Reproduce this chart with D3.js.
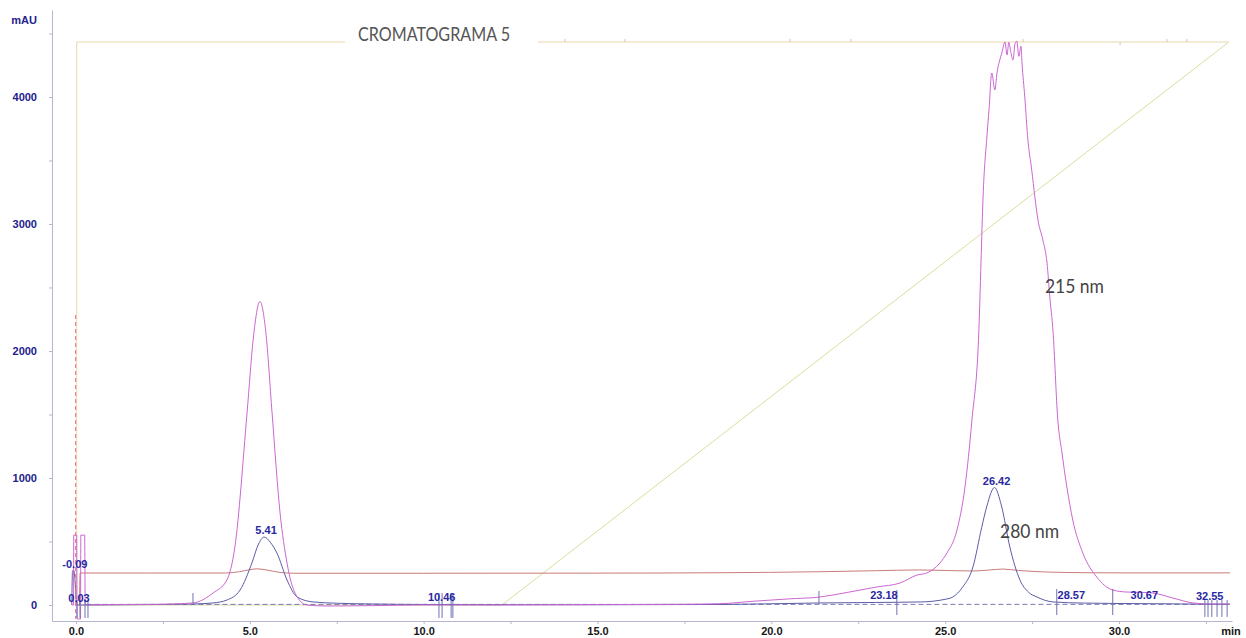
<!DOCTYPE html>
<html><head><meta charset="utf-8">
<script src="https://cdn.jsdelivr.net/npm/d3@7"></script>
<style>
html,body{margin:0;padding:0;background:#fff;}
svg{display:block;}
</style></head><body>
<svg id="chart" width="1246" height="638"></svg>
<script>
// Axis ticks: retention time (min) and absorbance (mAU)
const xTickValues = [0, 2.5, 5, 7.5, 10, 12.5, 15, 17.5, 20, 22.5, 25, 27.5, 30, 32.5];
const yTickValues = [0, 500, 1000, 1500, 2000, 2500, 3000, 3500, 4000, 4500];

// 215 nm signal
const t215 = [-0.12, -0.07, -0.065, 0.02, 0.03, 0.13, 0.14, 0.25, 0.265, 0.6, 1.5, 2.5, 3.365, 3.94, 4.34, 4.57, 4.92, 5.1, 5.29, 5.46, 5.64, 5.87, 6.07, 6.30, 6.64, 7.2, 8.5, 10, 12, 14, 16, 17.5, 18.52, 19.5, 20.5, 21.40, 22.2, 23.04, 23.70, 24.19, 24.47, 24.85, 25.05, 25.34, 25.57, 25.77, 25.97, 26.03, 26.09, 26.20, 26.26, 26.34, 26.43, 26.49, 26.57, 26.63, 26.72, 26.78, 26.83, 26.89, 26.95, 27.01, 27.06, 27.12, 27.18, 27.21, 27.29, 27.38, 27.49, 27.58, 27.67, 27.81, 27.93, 28.01, 28.10, 28.24, 28.36, 28.50, 28.67, 28.96, 29.36, 29.82, 30.23, 30.6, 30.98, 31.55, 32.13, 32.61, 33.19];
const a215 = [0, 0, 550, 550, -110, -110, 550, 550, 0, 2, 4, 6, 16, 94, 197, 457, 1512, 2100, 2390, 2150, 1512, 724, 330, 94, 0, -8, -5, 0, 0, 2, 4, 6, 10, 30, 48, 63, 100, 142, 173, 236, 252, 331, 409, 591, 929, 1457, 2165, 2693, 3213, 3685, 3898, 4189, 4055, 4189, 4291, 4346, 4433, 4330, 4430, 4350, 4290, 4420, 4440, 4320, 4400, 4268, 4000, 3661, 3425, 3213, 3031, 2874, 2693, 2425, 2165, 1457, 1197, 929, 669, 409, 220, 118, 102, 100, 94, 55, 16, 8, 8];

// 280 nm signal
const t280 = [-0.12, -0.1, -0.06, 0.03, 0.3, 1.5, 3.37, 3.94, 4.34, 4.72, 5.06, 5.25, 5.41, 5.6, 5.78, 6.07, 6.36, 6.82, 7.5, 8.5, 10, 12, 15, 18.5, 21.4, 23.0, 24.3, 25.0, 25.22, 25.5, 25.8, 26.05, 26.2, 26.42, 26.62, 26.86, 27.15, 27.4, 27.64, 28.1, 29, 31, 33.19];
const a280 = [0, 270, 270, 0, 0, 2, 8, 16, 39, 118, 331, 480, 535, 490, 409, 197, 63, 24, 14, 8, 4, 2, 2, 4, 16, 20, 24, 45, 63, 140, 300, 610, 780, 925, 780, 457, 197, 100, 63, 24, 15, 10, 5];

// reference channel
const tRef = [0.1, 0.12, 2, 4.3, 4.7, 5.0, 5.2, 5.5, 5.9, 6.3, 10, 15, 18.5, 21.4, 23.0, 24.2, 25.0, 25.8, 26.3, 26.66, 27.1, 27.7, 28.5, 30, 33.19];
const aRef = [0, 252, 252, 252, 262, 278, 285, 275, 255, 250, 250, 251, 254, 262, 270, 276, 272, 268, 276, 283, 272, 262, 256, 253, 253];

// pump trace and solvent gradient ramp (scaled to the mAU axis)
const tPump = [0.02, 0.02, 33.16];
const aPump = [0, 4433, 4433];
const tRamp = [0, 12.25, 33.16];
const aRamp = [0, 0, 4433];
const pumpEvents = [14.06, 15.79, 20.54, 22.29, 27.24, 30.03, 31.38, 31.95];
const pumpEventDir = [1, 1, 1, 1, 1, -1, 1, 1];

// injection mark
const tInjection = -0.01;
const injectionRange = [2283, -110];

// integration baseline
const tBaseline = [0.3, 33.16];
const aBaseline = [5, 5];

// integration event marks
const markTimes = [0.03, 0.115, 0.26, 0.345, 3.365, 10.44, 10.53, 10.79, 10.84, 21.37, 23.61, 28.21, 29.82, 32.47, 32.56, 32.67, 32.82, 32.96, 33.11];
const markTop = [39, 39, 39, 39, 94, 94, 94, 94, 94, 110, 118, 126, 126, 39, 39, 39, 39, 39, 39];
const markBottom = [-102, -102, -102, -102, 0, -102, -102, -102, -102, 8, -79, -79, -79, -94, -94, -94, -94, -94, -94];

// peak retention-time labels
const peakLabels = ["-0.09", "0.03", "5.41", "10.46", "23.18", "26.42", "28.57", "30.67", "32.55"];
const peakHeights = [270, 0, 535, 8, 24, 925, 24, 24, 16];

// annotations
const titleText = "CROMATOGRAMA 5";
const traceNames = ["215 nm", "280 nm"];
const traceNameAnchors = [[27.87, 2460], [26.58, 528]];

const svg = d3.select("#chart");
const x = d3.scaleLinear().domain([-0.69, 33.25]).range([52, 1232]);
const y = d3.scaleLinear().domain([-126, 4685]).range([621, 10]);

const line = d3.line().x(d => x(d[0])).y(d => y(d[1])).curve(d3.curveMonotoneX);
const straight = d3.line().x(d => x(d[0])).y(d => y(d[1]));

const axisColor = "#b6b6ce";

// axes
const gx = svg.append("g").attr("transform", `translate(0,${y.range()[0]})`)
  .call(d3.axisBottom(x).tickValues(xTickValues).tickSize(3).tickSizeOuter(0).tickPadding(3)
    .tickFormat(d => d % 5 === 0 ? d.toFixed(1) : ""));
gx.selectAll("path,line").attr("stroke", axisColor);
gx.selectAll("text").attr("font-family", "Liberation Sans, Arial, sans-serif")
  .attr("font-size", 11).attr("font-weight", "bold").attr("fill", "#161616");

const gy = svg.append("g").attr("transform", `translate(${x.range()[0]},0)`)
  .call(d3.axisLeft(y).tickValues(yTickValues).tickSize(3).tickSizeOuter(0).tickPadding(12)
    .tickFormat(d => d % 1000 === 0 ? d : ""));
gy.selectAll("path,line").attr("stroke", axisColor);
gy.selectAll("text").attr("font-family", "Liberation Sans, Arial, sans-serif")
  .attr("font-size", 11).attr("font-weight", "bold").attr("fill", "#22228c");

svg.append("text").attr("x", 37).attr("y", 24).attr("text-anchor", "end")
  .attr("font-family", "Liberation Sans, Arial, sans-serif").attr("font-size", 11)
  .attr("font-weight", "bold").attr("fill", "#22228c").text("mAU");
svg.append("text").attr("x", 1231).attr("y", 635).attr("text-anchor", "middle")
  .attr("font-family", "Liberation Sans, Arial, sans-serif").attr("font-size", 11)
  .attr("font-weight", "bold").attr("fill", "#161616").text("min");

const plot = svg.append("g").attr("fill", "none").attr("stroke-width", 1);

// gradient ramp and pump trace
plot.append("path").attr("d", straight(d3.zip(tRamp, aRamp))).attr("stroke", "#d9de9c");
plot.append("path").attr("d", straight(d3.zip(tPump, aPump))).attr("stroke", "#ead7ac");
plot.selectAll(".pev").data(pumpEvents).join("line")
  .attr("x1", d => x(d)).attr("x2", d => x(d))
  .attr("y1", y(4433)).attr("y2", (d, i) => y(4433) - 3 * pumpEventDir[i])
  .attr("stroke", "#d9c79c");

// title sitting in a gap of the pump trace
const titleGroup = svg.append("g");
const titleBg = titleGroup.append("rect").attr("fill", "#fff");
const title = titleGroup.append("text").attr("x", 358).attr("y", 41)
  .attr("font-family", "Lato, Open Sans, sans-serif").attr("font-size", 19)
  .attr("textLength", 152).attr("lengthAdjust", "spacingAndGlyphs")
  .attr("fill", "#555").text(titleText);
const tb = title.node().getBBox();
titleBg.attr("x", tb.x - 13).attr("y", tb.y).attr("width", tb.width + 41).attr("height", tb.height + 6);

// integration baseline
plot.append("path").attr("d", straight(d3.zip(tBaseline, aBaseline)))
  .attr("stroke", "#7a7ab8").attr("stroke-dasharray", "5,3");

// reference channel, 280 nm, 215 nm
plot.append("path").attr("d", line(d3.zip(tRef, aRef))).attr("stroke", "#c97b7b");
plot.append("path").attr("d", line(d3.zip(t280, a280))).attr("stroke", "#5c5ca6");
plot.append("path").attr("d", line(d3.zip(t215, a215))).attr("stroke", "#cc66d2");

// injection mark
plot.append("line").attr("x1", x(tInjection)).attr("x2", x(tInjection))
  .attr("y1", y(injectionRange[0])).attr("y2", y(injectionRange[1]))
  .attr("stroke", "#ea6a86").attr("stroke-dasharray", "4,3");

// integration event marks
plot.selectAll(".mk").data(markTimes).join("line")
  .attr("x1", d => x(d)).attr("x2", d => x(d))
  .attr("y1", (d, i) => y(markTop[i])).attr("y2", (d, i) => y(markBottom[i]))
  .attr("stroke", "#7070b4");

// peak labels
svg.append("g").selectAll("text").data(peakLabels).join("text")
  .attr("x", d => x(+d) + 2).attr("y", (d, i) => y(peakHeights[i]) - 3)
  .attr("text-anchor", "middle")
  .attr("font-family", "Liberation Sans, Arial, sans-serif").attr("font-size", 11)
  .attr("font-weight", "bold").attr("fill", "#2828a2").text(d => d);

// wavelength annotations
svg.append("g").selectAll("text").data(traceNames).join("text")
  .attr("x", (d, i) => x(traceNameAnchors[i][0])).attr("y", (d, i) => y(traceNameAnchors[i][1]))
  .attr("font-family", "Lato, Open Sans, sans-serif").attr("font-size", 20)
  .attr("textLength", 59).attr("lengthAdjust", "spacingAndGlyphs")
  .attr("fill", "#444").text(d => d);
</script>
</body></html>
